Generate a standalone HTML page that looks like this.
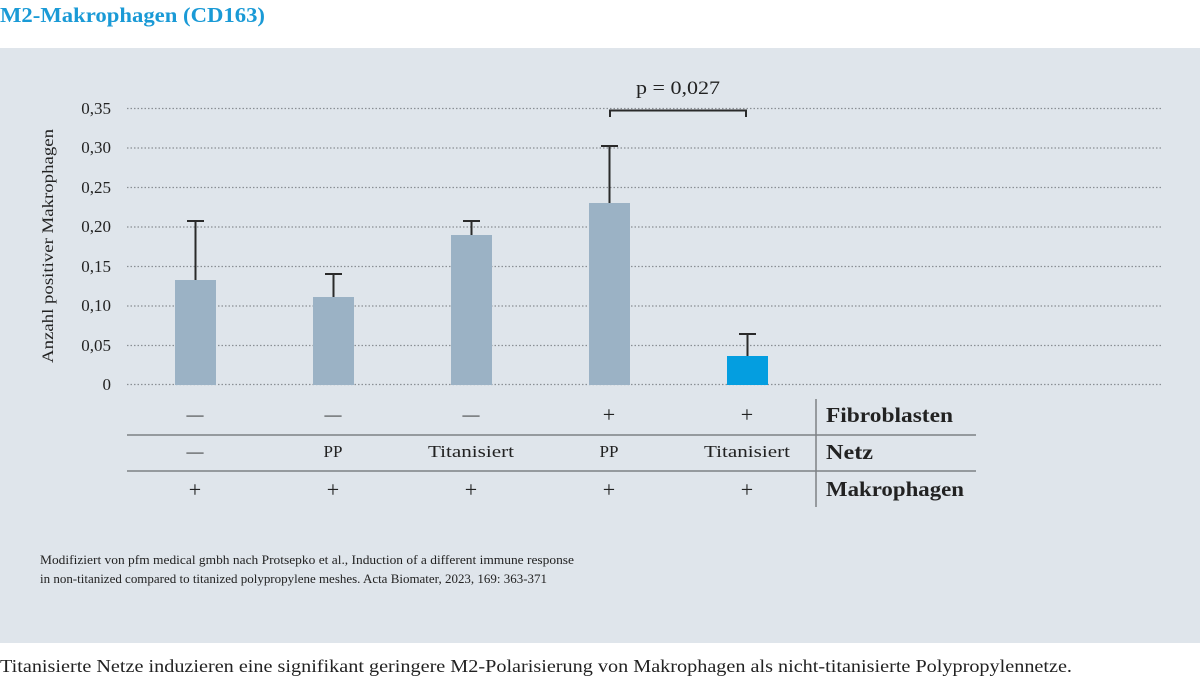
<!DOCTYPE html>
<html><head><meta charset="utf-8"><style>
body{margin:0;width:1200px;height:678px;background:#fff;overflow:hidden;font-family:"Liberation Serif",serif;}
</style></head><body>
<svg width="1200" height="678" xmlns="http://www.w3.org/2000/svg" font-family="Liberation Serif, serif">
<text x="0" y="22" font-size="21" font-weight="bold" fill="#1a9ad6" textLength="265" lengthAdjust="spacingAndGlyphs">M2-Makrophagen (CD163)</text>
<rect x="0" y="48" width="1200" height="595" fill="#dfe5eb"/>
<g stroke="#8a8f94" stroke-width="1.3" stroke-dasharray="1.5,2">
<line x1="127" y1="108.5" x2="1162" y2="108.5"/>
<line x1="127" y1="148" x2="1162" y2="148"/>
<line x1="127" y1="187.5" x2="1162" y2="187.5"/>
<line x1="127" y1="227" x2="1162" y2="227"/>
<line x1="127" y1="266.5" x2="1162" y2="266.5"/>
<line x1="127" y1="306" x2="1162" y2="306"/>
<line x1="127" y1="345.5" x2="1162" y2="345.5"/>
<line x1="127" y1="384.5" x2="1162" y2="384.5"/>
</g>
<g font-size="17" fill="#222" text-anchor="end">
<text x="111" y="114">0,35</text><text x="111" y="153">0,30</text><text x="111" y="193">0,25</text>
<text x="111" y="232">0,20</text><text x="111" y="272">0,15</text><text x="111" y="311">0,10</text>
<text x="111" y="351">0,05</text><text x="111" y="390">0</text>
</g>
<text transform="translate(53,246) rotate(-90)" font-size="16" fill="#222" text-anchor="middle" textLength="234" lengthAdjust="spacingAndGlyphs">Anzahl positiver Makrophagen</text>
<g fill="#9bb2c5">
<rect x="175" y="280" width="41" height="105"/>
<rect x="313" y="297" width="41" height="88"/>
<rect x="451" y="235" width="41" height="150"/>
<rect x="589" y="203" width="41" height="182"/>
</g>
<rect x="727" y="356" width="41" height="29" fill="#049ee0"/>
<g stroke="#2a2a2a" stroke-width="2" fill="none">
<path d="M195.5 280V221M187 221h17"/>
<path d="M333.5 297V274M325 274h17"/>
<path d="M471.5 235V221M463 221h17"/>
<path d="M609.5 203V146M601 146h17"/>
<path d="M747.5 356V334M739 334h17"/>
<path d="M610 117V110.5H746V117"/>
</g>
<text x="678" y="94" font-size="19" fill="#222" text-anchor="middle" textLength="84" lengthAdjust="spacingAndGlyphs">p = 0,027</text>
<g stroke="#7d8185" stroke-width="1.5">
<line x1="127" y1="435" x2="976" y2="435"/>
<line x1="127" y1="471" x2="976" y2="471"/>
<line x1="816" y1="399" x2="816" y2="507"/>
</g>
<g font-size="17" fill="#222" text-anchor="middle">
<text x="195" y="420">—</text><text x="333" y="420">—</text><text x="471" y="420">—</text>
<text x="195" y="457">—</text><text x="333" y="457">PP</text><text x="471" y="457" textLength="86" lengthAdjust="spacingAndGlyphs">Titanisiert</text><text x="609" y="457">PP</text><text x="747" y="457" textLength="86" lengthAdjust="spacingAndGlyphs">Titanisiert</text>
</g>
<g font-size="22" fill="#222" text-anchor="middle">
<text x="609" y="422">+</text><text x="747" y="422">+</text>
<text x="195" y="497">+</text><text x="333" y="497">+</text><text x="471" y="497">+</text><text x="609" y="497">+</text><text x="747" y="497">+</text>
</g>
<g font-size="21" font-weight="bold" fill="#222">
<text x="826" y="422" textLength="127" lengthAdjust="spacingAndGlyphs">Fibroblasten</text><text x="826" y="459" textLength="47" lengthAdjust="spacingAndGlyphs">Netz</text><text x="826" y="496" textLength="138" lengthAdjust="spacingAndGlyphs">Makrophagen</text>
</g>
<g font-size="12.5" fill="#222">
<text x="40" y="564" textLength="534" lengthAdjust="spacingAndGlyphs">Modifiziert von pfm medical gmbh nach Protsepko et al., Induction of a different immune response</text>
<text x="40" y="583" textLength="507" lengthAdjust="spacingAndGlyphs">in non-titanized compared to titanized polypropylene meshes. Acta Biomater, 2023, 169: 363-371</text>
</g>
<text x="0" y="672" font-size="18" fill="#222" textLength="1072" lengthAdjust="spacingAndGlyphs">Titanisierte Netze induzieren eine signifikant geringere M2-Polarisierung von Makrophagen als nicht-titanisierte Polypropylennetze.</text>
</svg>
</body></html>
